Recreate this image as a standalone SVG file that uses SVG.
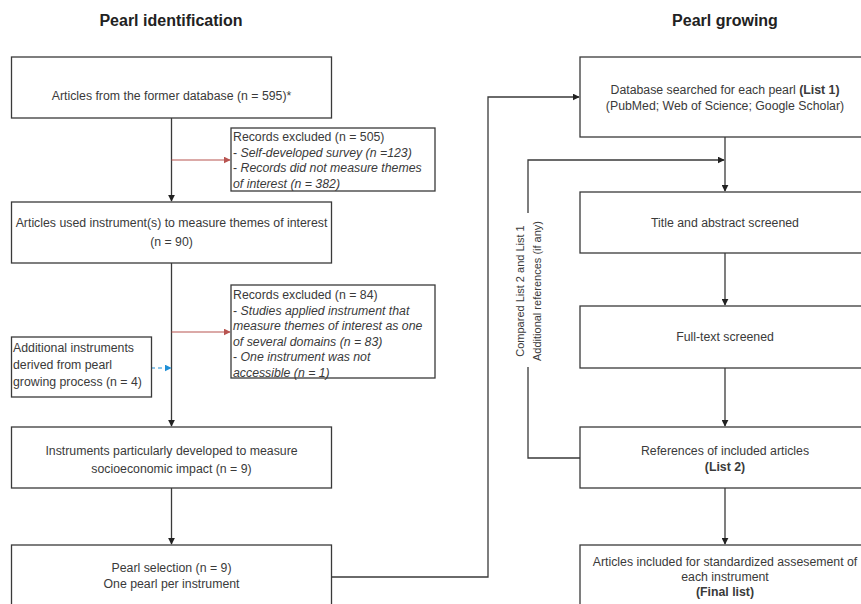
<svg xmlns="http://www.w3.org/2000/svg" width="861" height="604" viewBox="0 0 861 604">
<style>
.box{fill:#fff;stroke:#3a3a3a;stroke-width:1.3}
.t{font-family:"Liberation Sans",Arial,sans-serif;font-size:12.3px;fill:#3a3a3a}
.c{text-anchor:middle}
.b{font-weight:bold}
.i{font-style:italic}
.h{font-family:"Liberation Sans",Arial,sans-serif;font-size:16px;font-weight:bold;fill:#222;text-anchor:middle}
.ln{fill:none;stroke:#3a3a3a;stroke-width:1.3}
.red{fill:none;stroke:#b85450;stroke-width:1.2}
.blue{fill:none;stroke:#1f8fd6;stroke-width:1.2;stroke-dasharray:4 3}
</style>
<defs>
<marker id="ah" viewBox="0 0 10 10" refX="9" refY="5" markerWidth="7" markerHeight="7" markerUnits="userSpaceOnUse" orient="auto"><path d="M0,0 L10,5 L0,10 z" fill="#222"/></marker>
<marker id="ahr" viewBox="0 0 10 10" refX="9" refY="5" markerWidth="7" markerHeight="7" markerUnits="userSpaceOnUse" orient="auto"><path d="M0,0 L10,5 L0,10 z" fill="#b85450"/></marker>
<marker id="ahb" viewBox="0 0 10 10" refX="9" refY="5" markerWidth="7" markerHeight="7" markerUnits="userSpaceOnUse" orient="auto"><path d="M0,0 L10,5 L0,10 z" fill="#1f8fd6"/></marker>
</defs>
<rect width="861" height="604" fill="#fff"/>

<text class="h" x="171" y="26">Pearl identification</text>
<text class="h" x="725" y="26">Pearl growing</text>

<g id="connectors">
<path class="ln" d="M171.5,118 V201" marker-end="url(#ah)"/>
<path class="red" d="M171.5,160 H230" marker-end="url(#ahr)"/>
<path class="ln" d="M171.5,263 V426" marker-end="url(#ah)"/>
<path class="red" d="M171.5,332 H230" marker-end="url(#ahr)"/>
<path class="blue" d="M151,368 H171" marker-end="url(#ahb)"/>
<path class="ln" d="M171.5,488 V544" marker-end="url(#ah)"/>
<path class="ln" d="M331,577 H488 V97 H579" marker-end="url(#ah)"/>
<path class="ln" d="M725,137 V191" marker-end="url(#ah)"/>
<path class="ln" d="M580,458 H528 V367 M528,213 V160 H724" marker-end="url(#ah)"/>
<path class="ln" d="M725,253 V305" marker-end="url(#ah)"/>
<path class="ln" d="M725,368 V426" marker-end="url(#ah)"/>
<path class="ln" d="M725,488 V544" marker-end="url(#ah)"/>
<text class="t" transform="translate(528,291) rotate(-90)" text-anchor="middle" style="font-size:11px"><tspan x="0" y="-4">Compared List 2 and List 1</tspan><tspan x="0" y="13">Additional references (if any)</tspan></text>
</g>

<g id="n1">
<rect class="box" x="11.5" y="57" width="320" height="61"/>
<text class="t c" x="171.5" y="100">Articles from the former database (n = 595)*</text>
</g>
<g id="n2">
<rect class="box" x="231" y="128" width="204" height="63"/>
<text class="t" x="233" y="141">Records excluded (n = 505)</text>
<text class="t" x="233" y="156.5">- <tspan class="i">Self-developed survey (n =123)</tspan></text>
<text class="t" x="233" y="172">- <tspan class="i">Records did not measure themes</tspan></text>
<text class="t i" x="233" y="187.5">of interest (n = 382)</text>
</g>
<g id="n3">
<rect class="box" x="11.5" y="202" width="320" height="61"/>
<text class="t c" x="171.5" y="227">Articles used instrument(s) to measure themes of interest</text>
<text class="t c" x="171.5" y="246">(n = 90)</text>
</g>
<g id="n4">
<rect class="box" x="231" y="285" width="204" height="93"/>
<text class="t" x="233" y="299">Records excluded (n = 84)</text>
<text class="t" x="233" y="314.5">- <tspan class="i">Studies applied instrument that</tspan></text>
<text class="t i" x="233" y="330">measure themes of interest as one</text>
<text class="t i" x="233" y="345.5">of several domains (n = 83)</text>
<text class="t" x="233" y="361">- <tspan class="i">One instrument was not</tspan></text>
<text class="t i" x="233" y="376.5">accessible (n = 1)</text>
</g>
<g id="n5">
<rect class="box" x="11.5" y="337" width="140" height="60"/>
<text class="t" x="13" y="352">Additional instruments</text>
<text class="t" x="13" y="369">derived from pearl</text>
<text class="t" x="13" y="386">growing process (n = 4)</text>
</g>
<g id="n6">
<rect class="box" x="11.5" y="427" width="320" height="61"/>
<text class="t c" x="171.5" y="455">Instruments particularly developed to measure</text>
<text class="t c" x="171.5" y="473">socioeconomic impact (n = 9)</text>
</g>
<g id="n7">
<rect class="box" x="11.5" y="545" width="320" height="64"/>
<text class="t c" x="171.5" y="572">Pearl selection (n = 9)</text>
<text class="t c" x="171.5" y="588">One pearl per instrument</text>
</g>
<g id="n8">
<rect class="box" x="580" y="57" width="290" height="80"/>
<text class="t c" x="725" y="94">Database searched for each pearl <tspan class="b">(List 1)</tspan></text>
<text class="t c" x="725" y="110">(PubMed; Web of Science; Google Scholar)</text>
</g>
<g id="n9">
<rect class="box" x="580" y="192" width="290" height="61"/>
<text class="t c" x="725" y="227">Title and abstract screened</text>
</g>
<g id="n10">
<rect class="box" x="580" y="306" width="290" height="62"/>
<text class="t c" x="725" y="341">Full-text screened</text>
</g>
<g id="n11">
<rect class="box" x="580" y="427" width="290" height="61"/>
<text class="t c" x="725" y="455">References of included articles</text>
<text class="t c b" x="725" y="471">(List 2)</text>
</g>
<g id="n12">
<rect class="box" x="580" y="545" width="290" height="64"/>
<text class="t c" x="725" y="566">Articles included for standardized assesement of</text>
<text class="t c" x="725" y="581">each instrument</text>
<text class="t c b" x="725" y="596">(Final list)</text>
</g>
</svg>
